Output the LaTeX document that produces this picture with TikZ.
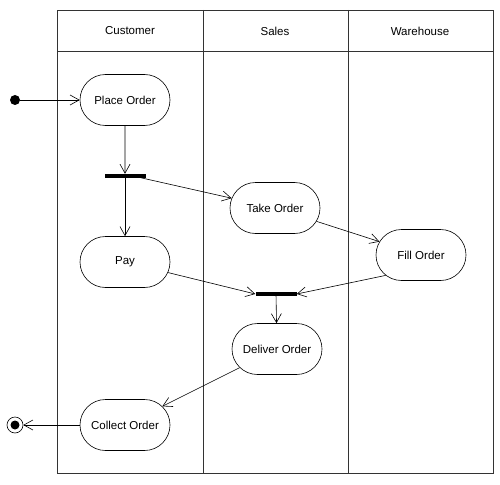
\documentclass[tikz,border=0pt]{standalone}
\usepackage{fontspec}
\setmainfont{Liberation Sans}
\usetikzlibrary{arrows.meta,positioning,shapes.misc}

\begin{document}
\begin{tikzpicture}[
    x=1pt, y=-1pt,
    font=\fontsize{11.5}{13}\selectfont,
    activity/.style={draw, line width=0.6pt, rounded rectangle, minimum width=92pt, minimum height=51pt, inner sep=1pt},
    bar/.style={fill=black, minimum width=41pt, minimum height=4pt, inner sep=0pt},
    lanehead/.style={align=center},
    arrow/.style={-{Straight Barb[length=9pt, width=10pt]}, line width=0.6pt},
    frame/.style={line width=0.9pt, draw=black!80}
]
\useasboundingbox (0,0) rectangle (500,484);

% swimlanes
\draw[frame] (57,10) rectangle (493,473);
\draw[frame] (57,51) -- (493,51);
\draw[frame] (203,10) -- (203,473);
\draw[frame] (348,10) -- (348,473);
\node[lanehead] (hcust) at (130,31) {Customer};
\node[lanehead] (hsales) at (275,31) {Sales};
\node[lanehead] (hware) at (420,31) {Warehouse};

% states
\node[circle, fill=black, minimum size=10pt, inner sep=0pt] (start) at (15,100) {};
\node[activity] (place) at (125,100) {Place Order};
\node[bar] (fork) at (125,176) {};
\node[activity] (take) at (275,208) {Take Order};
\node[activity] (pay) at (125,262) {Pay};
\node[activity] (fill) at (421,255) {Fill Order};
\node[bar] (join) at (276,294) {};
\node[activity] (deliver) at (277,349) {Deliver Order};
\node[activity] (collect) at (125,425) {Collect Order};
\node[circle, draw, line width=0.6pt, minimum size=16pt, inner sep=0pt,
      path picture={\fill (path picture bounding box.center) circle (4.5pt);}] (end) at (15,425) {};

% transitions
\draw[arrow] (start) -- (place);
\draw[arrow] (place) -- (fork);
\draw[arrow] ([xshift=8pt]fork.center) -- (take);
\draw[arrow] (fork) -- (pay);
\draw[arrow] (take) -- (fill);
\draw[arrow] (pay) -- (join.west);
\draw[arrow] (fill.-150) -- (join.east);
\draw[arrow] (join) -- (deliver);
\draw[arrow] (deliver) -- (collect);
\draw[arrow] (collect) -- (end);
\end{tikzpicture}
\end{document}
